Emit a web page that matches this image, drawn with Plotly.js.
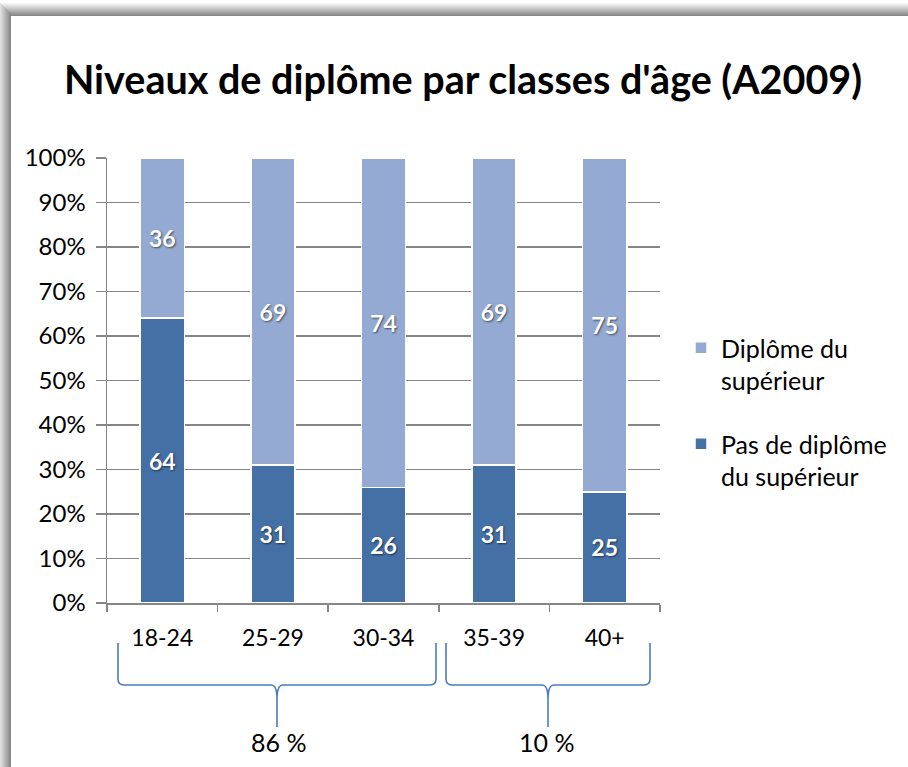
<!DOCTYPE html>
<html>
<head>
<meta charset="utf-8">
<script src="https://cdn.plot.ly/plotly-3.0.1.min.js"></script>
<style>html,body{margin:0;padding:0;background:#fff;}#chart{width:908px;height:767px;}</style>
</head>
<body>
<div id="chart"></div>
<script>
var categories = ['18-24', '25-29', '30-34', '35-39', '40+'];
var pasDiplome = [64, 31, 26, 31, 25];
var diplomeSup = [36, 69, 74, 69, 75];
var seriesNames = ['Pas de diplôme<br>du supérieur', 'Diplôme du<br>supérieur'];
var groupLabels = ['86 %', '10 %'];

var W = 908, H = 767;
var L = 107, R = 660, T = 158, B = 603;
function px(x) { return (x - L) / (R - L); }
function py(y) { return (B - y) / (B - T); }
function P(x, y) { return px(x).toFixed(5) + ',' + py(y).toFixed(5); }

var font = 'Lato, "Open Sans", sans-serif';
var darkBlue = '#4470a6';
var lightBlue = '#94aad2';

var shapes = [];
var topSteps = 13, leftSteps = 11;
for (var i = 0; i < topSteps; i++) {
  var t = i / (topSteps - 1);
  var c = Math.round(245 - t * 110);
  shapes.push({type: 'rect', xref: 'paper', yref: 'paper', layer: 'below',
    x0: px(0), x1: px(W + 5), y0: py(3 + i), y1: py(4 + i),
    line: {width: 0}, fillcolor: 'rgb(' + c + ',' + c + ',' + c + ')'});
}
for (var j = 0; j < leftSteps; j++) {
  var s = j / (leftSteps - 1);
  var c2 = Math.round(225 - s * 90);
  shapes.push({type: 'rect', xref: 'paper', yref: 'paper', layer: 'below',
    x0: px(j), x1: px(j + 1), y0: py(3 + j), y1: py(H + 5),
    line: {width: 0}, fillcolor: 'rgb(' + c2 + ',' + c2 + ',' + c2 + ')'});
}

function brace(x1, x2, xm, yt, yh, yb) {
  var r = 6;
  return 'M' + P(x1, yt) + ' L' + P(x1, yh - r) + ' Q' + P(x1, yh) + ' ' + P(x1 + r, yh) +
    ' L' + P(xm - r, yh) + ' Q' + P(xm, yh) + ' ' + P(xm, yh + 14) + ' L' + P(xm, yb) +
    ' M' + P(xm, yh + 14) + ' Q' + P(xm, yh) + ' ' + P(xm + r, yh) +
    ' L' + P(x2 - r, yh) + ' Q' + P(x2, yh) + ' ' + P(x2, yh - r) + ' L' + P(x2, yt);
}
var braceColor = '#4a7ebb';
shapes.push({type: 'path', xref: 'paper', yref: 'paper', path: brace(118, 436, 277, 643, 685, 727),
  line: {color: braceColor, width: 1.6}});
shapes.push({type: 'path', xref: 'paper', yref: 'paper', path: brace(446, 650, 548, 643, 685, 727),
  line: {color: braceColor, width: 1.6}});

var annotations = [
  {xref: 'paper', yref: 'paper', x: px(278), y: py(742), text: groupLabels[0], showarrow: false,
    font: {family: font, size: 25, color: '#000'}, xanchor: 'center', yanchor: 'middle'},
  {xref: 'paper', yref: 'paper', x: px(546), y: py(742), text: groupLabels[1], showarrow: false,
    font: {family: font, size: 25, color: '#000'}, xanchor: 'center', yanchor: 'middle'}
];

var labelFont = {family: font, size: 23, color: '#ffffff', weight: 'bold',
  shadow: '1px 1px 2px rgba(0,0,0,0.55)'};

var traces = [
  {type: 'bar', name: seriesNames[0], x: categories, y: pasDiplome,
    text: pasDiplome.map(String), textposition: 'inside', insidetextanchor: 'middle',
    textfont: labelFont, constraintext: 'none', legendgroup: 'a', legendrank: 2,
    marker: {color: darkBlue, line: {color: '#ffffff', width: 1.5}}, hoverinfo: 'none'},
  {type: 'bar', name: seriesNames[1], x: categories, y: diplomeSup,
    text: diplomeSup.map(String), textposition: 'inside', insidetextanchor: 'middle',
    textfont: labelFont, constraintext: 'none', legendgroup: 'b', legendrank: 1,
    marker: {color: lightBlue, line: {color: '#ffffff', width: 1.5}}, hoverinfo: 'none'}
];

var layout = {
  width: W, height: H,
  margin: {l: L, r: W - R, t: T, b: H - B, pad: 0},
  paper_bgcolor: '#ffffff', plot_bgcolor: '#ffffff',
  barmode: 'stack', bargap: 0.6,
  title: {text: "<b>Niveaux de diplôme par classes d'âge (A2009)</b>",
    font: {family: font, size: 39.5, color: '#000'},
    x: 463 / W, xref: 'container', xanchor: 'center',
    y: 1 - 80 / H, yref: 'container', yanchor: 'middle'},
  xaxis: {type: 'category', showgrid: false, showline: true, linecolor: '#868686', linewidth: 1.5,
    ticks: 'outside', tickson: 'boundaries', ticklen: 7, tickcolor: '#868686', tickwidth: 1.5,
    tickfont: {family: font, size: 23, color: '#000'}, ticklabelstandoff: 14, zeroline: false,
    fixedrange: true},
  yaxis: {range: [0, 100], tickmode: 'linear', tick0: 0, dtick: 10, ticksuffix: '%', showgrid: true,
    gridcolor: '#868686', gridwidth: 1.5, showline: true, linecolor: '#868686', linewidth: 1.5,
    ticks: 'outside', ticklen: 10, tickcolor: '#868686', tickwidth: 1.5, zeroline: false,
    tickfont: {family: font, size: 24, color: '#000'}, ticklabelstandoff: 5, fixedrange: true},
  showlegend: true,
  legend: {x: px(681), y: py(325), xanchor: 'left', yanchor: 'top', traceorder: 'grouped',
    valign: 'top', tracegroupgap: 28, bgcolor: 'rgba(0,0,0,0)',
    font: {family: font, size: 25, color: '#000'}, itemwidth: 30},
  shapes: shapes,
  annotations: annotations
};

Plotly.newPlot('chart', traces, layout, {displayModeBar: false, staticPlot: true});
</script>
</body>
</html>
